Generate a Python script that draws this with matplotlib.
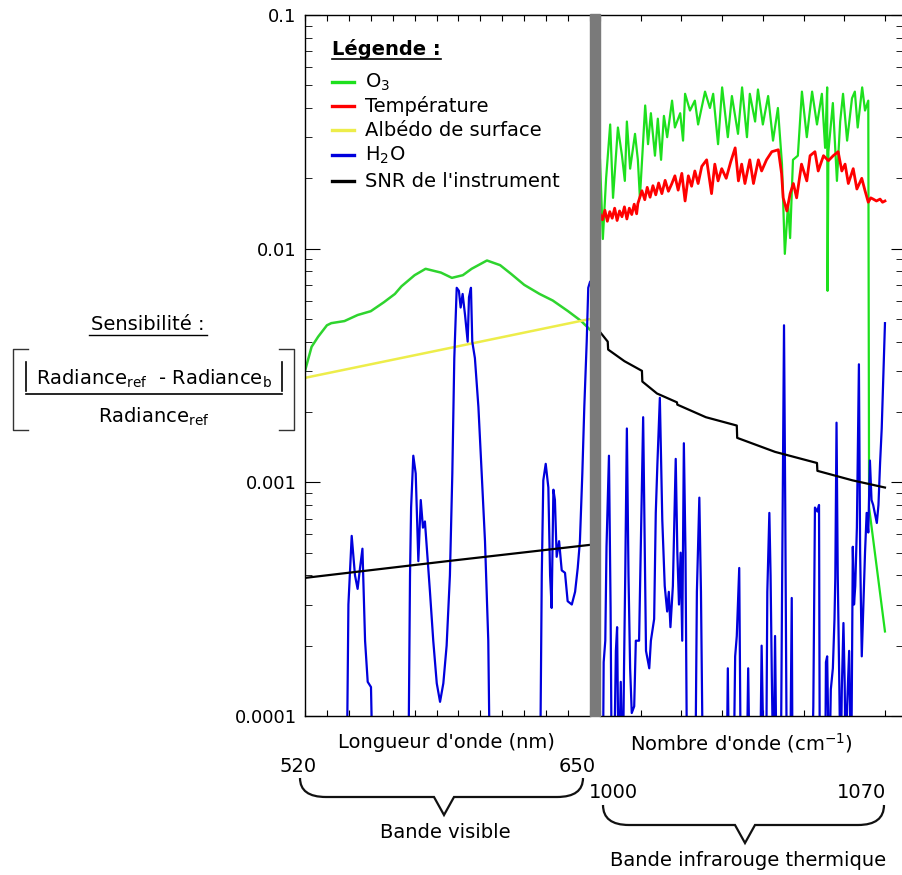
import numpy as np
import matplotlib
matplotlib.use("Agg")
import matplotlib.pyplot as plt
from matplotlib.lines import Line2D
from matplotlib.patches import Rectangle, PathPatch
from matplotlib.path import Path
from matplotlib.ticker import LogLocator, FixedFormatter, FixedLocator, NullFormatter

W, H = 903, 875

# --- donnees ---
# bande visible (nm)
o3_vis_nm = [520, 523, 526, 530, 532, 538, 544, 550, 556, 561, 564, 570, 575, 582, 587,
             592, 596, 603, 609, 614, 620, 627, 633, 640, 646, 650]
o3_vis = [0.0030, 0.0038, 0.0042, 0.0047, 0.0048, 0.0049, 0.0052, 0.0054, 0.0059, 0.0064,
          0.0069, 0.0077, 0.0082, 0.0079, 0.0075, 0.0077, 0.0082, 0.0089, 0.0085, 0.0078,
          0.0070, 0.0064, 0.0060, 0.0054, 0.0049, 0.0045]

albedo_nm = [520, 585, 650]
albedo = [0.0028, 0.00374, 0.0050]

snr_vis_nm = [520, 585, 650]
snr_vis = [0.00039, 0.00046, 0.00054]

h2o_vis_nm = [520, 539.0, 539.8, 541.3, 542.8, 544.0, 545.1, 546.2, 547.4, 548.6, 550.1, 551.0,
              567.1, 567.9, 568.4, 569.4, 570.5, 571.7, 572.8, 573.8, 574.7, 576.0, 577.0,
              578.5, 580.1, 581.6, 583.1, 584.6, 586.1, 587.2, 588.1, 589.2, 590.2, 591.0,
              591.9, 593.0, 594.2, 594.8, 595.7, 596.3, 597.5, 599.1, 600.6, 602.1, 603.6,
              604.4, 627.2, 628.0, 628.7, 629.8, 631.0, 631.8, 632.5, 633.3, 634.0, 634.8,
              635.9, 637.1, 638.6, 639.8, 641.7, 643.2, 644.4, 645.4, 646.5, 647.4, 648.5,
              649.2, 650]
h2o_vis = [5e-5, 5e-5, 0.00030, 0.00059, 0.00040, 0.00035, 0.00043, 0.00052, 0.00021, 0.00014,
           0.000133, 5e-5,
           5e-5, 0.00040, 0.00078, 0.0013, 0.00109, 0.00046, 0.00084, 0.00064, 0.00068,
           0.00046, 0.00034, 0.00021, 0.000138, 0.000115, 0.000138, 0.00020, 0.00040,
           0.00109, 0.0034, 0.0068, 0.0066, 0.0056, 0.0064, 0.0052, 0.0040, 0.0062, 0.0068,
           0.0040, 0.0034, 0.0021, 0.00109, 0.00056, 0.00021, 5e-5,
           5e-5, 0.00040, 0.00102, 0.0012, 0.00095, 0.00040, 0.00029, 0.00093, 0.00084,
           0.00048, 0.00056, 0.00042, 0.00041, 0.00031, 0.00030, 0.00034, 0.00043, 0.00056,
           0.00109, 0.0021, 0.0040, 0.0068, 0.0072]

# bande infrarouge (cm-1)
o3_ir_wn = [1000.0, 1000.7, 1001.5, 1002.5, 1003.2, 1004.4, 1005.4, 1006.1, 1006.6, 1007.4,
            1008.6, 1009.3, 1009.8, 1011.1, 1011.8, 1012.5, 1013.5, 1014.2, 1015.0, 1015.7,
            1016.5, 1017.7, 1018.4, 1019.7, 1020.4, 1020.9, 1022.1, 1023.3, 1024.1, 1025.8,
            1027.0, 1027.8, 1029.0, 1030.0, 1031.4, 1032.4, 1033.9, 1034.9, 1036.1, 1036.8,
            1038.1, 1038.8, 1040.0, 1041.3, 1042.5, 1043.7, 1044.7, 1045.4, 1046.2, 1046.7,
            1047.4, 1048.6, 1049.6, 1050.8, 1052.1, 1053.3, 1054.5, 1055.3, 1055.8, 1055.9,
            1056.1, 1057.2, 1058.2, 1059.0, 1059.7, 1060.7, 1061.9, 1062.6, 1063.3, 1064.4,
            1065.1, 1065.9, 1066.1, 1070.0]
o3_ir = [0.024, 0.011, 0.020, 0.034, 0.0165, 0.033, 0.025, 0.0195, 0.035, 0.022,
         0.031, 0.024, 0.0165, 0.041, 0.028, 0.038, 0.025, 0.036, 0.024, 0.037,
         0.030, 0.043, 0.033, 0.038, 0.029, 0.046, 0.039, 0.043, 0.034, 0.047,
         0.040, 0.046, 0.028, 0.049, 0.030, 0.045, 0.031, 0.049, 0.030, 0.046,
         0.035, 0.048, 0.034, 0.045, 0.029, 0.040, 0.023, 0.0095, 0.0156, 0.0111,
         0.024, 0.025, 0.047, 0.030, 0.047, 0.034, 0.046, 0.027, 0.049, 0.0066,
         0.026, 0.042, 0.0195, 0.035, 0.046, 0.029, 0.044, 0.047, 0.033, 0.049,
         0.039, 0.043, 0.00078, 0.00023]

temp_ir_wn = [1000.0, 1000.6, 1001.2, 1001.8, 1002.4, 1003.0, 1003.6, 1004.2, 1004.8, 1005.4,
              1006.0, 1006.6, 1007.2, 1007.8, 1008.4, 1009.0, 1009.3, 1010.3, 1011.0, 1011.6,
              1012.3, 1013.0, 1013.7, 1014.4, 1015.2, 1016.0, 1016.8, 1017.6, 1018.4, 1019.2,
              1020.1, 1020.9, 1021.7, 1022.5, 1023.3, 1024.1, 1025.0, 1026.2, 1027.4, 1028.2,
              1029.0, 1029.9, 1031.0, 1032.1, 1033.2, 1034.0, 1034.8, 1035.6, 1036.8, 1037.7,
              1038.9, 1039.7, 1040.9, 1042.2, 1043.8, 1044.6, 1045.0, 1045.9, 1046.7, 1047.5,
              1048.3, 1049.5, 1050.8, 1051.6, 1052.8, 1053.6, 1054.9, 1056.1, 1057.3, 1058.5,
              1059.4, 1060.2, 1061.0, 1062.2, 1063.1, 1064.3, 1065.1, 1065.9, 1066.5, 1067.1,
              1067.9, 1068.8, 1069.4, 1070.0]
temp_ir = [0.0141, 0.0133, 0.0146, 0.0131, 0.0144, 0.0135, 0.0149, 0.0132, 0.0145, 0.0137,
           0.0151, 0.0134, 0.0149, 0.0140, 0.0155, 0.0141, 0.0156, 0.0177, 0.0162, 0.0183,
           0.0166, 0.0186, 0.0170, 0.0191, 0.0172, 0.0196, 0.0176, 0.0189, 0.0205, 0.0178,
           0.0210, 0.0160, 0.0205, 0.0185, 0.0215, 0.0190, 0.0225, 0.0240, 0.0172, 0.0230,
           0.0195, 0.0220, 0.0200, 0.0235, 0.0270, 0.0195, 0.0230, 0.0190, 0.0240, 0.0190,
           0.0240, 0.0215, 0.0240, 0.0260, 0.0265, 0.0210, 0.0165, 0.0145, 0.0172, 0.0190,
           0.0165, 0.0230, 0.0195, 0.0250, 0.0260, 0.0215, 0.0250, 0.0238, 0.0250, 0.0260,
           0.0215, 0.0230, 0.0190, 0.0220, 0.0180, 0.0200, 0.0177, 0.0158, 0.0165, 0.0163,
           0.0160, 0.0163, 0.0158, 0.0160]

h2o_ir_wn = [1000.0, 1000.7, 1000.9, 1001.3, 1001.6, 1002.2, 1002.6, 1002.9, 1003.4, 1003.9,
             1004.2, 1004.6, 1005.1, 1005.6, 1005.9, 1006.2, 1006.6, 1007.0, 1007.4, 1007.8,
             1008.4, 1008.8, 1009.6, 1010.0, 1010.6, 1011.0, 1011.3, 1012.1, 1012.5, 1013.3,
             1013.7, 1014.1, 1014.7, 1015.3, 1015.9, 1016.5, 1016.9, 1017.3, 1017.9, 1018.6,
             1019.0, 1019.4, 1019.8, 1020.2, 1020.6, 1021.0, 1021.4, 1023.4, 1023.8, 1024.4,
             1024.8, 1025.3, 1031.1, 1031.4, 1031.7, 1032.8, 1033.2, 1033.6, 1034.2, 1034.6,
             1036.0, 1036.4, 1036.8, 1039.3, 1039.7, 1040.3, 1040.8, 1041.1, 1041.6, 1041.9,
             1042.2, 1042.6, 1043.0, 1043.4, 1044.4, 1044.7, 1045.2, 1045.5, 1045.9, 1046.7,
             1047.1, 1047.3, 1052.0, 1052.4, 1052.8, 1053.4, 1053.8, 1054.0, 1055.3, 1055.5,
             1055.8, 1056.3, 1056.7, 1057.2, 1057.6, 1057.8, 1058.1, 1058.4, 1058.8, 1059.1,
             1059.4, 1059.8, 1060.1, 1060.4, 1060.7, 1061.2, 1061.7, 1062.1, 1062.4, 1062.7,
             1063.1, 1063.6, 1063.9, 1064.3, 1064.7, 1065.1, 1065.5, 1065.9, 1066.3, 1066.7,
             1067.1, 1067.5, 1068.0, 1068.4, 1068.8, 1069.2, 1069.6, 1070.0]
h2o_ir = [5e-5, 5e-5, 0.00017, 0.00021, 0.00053, 0.0013, 0.00029, 5e-5, 5e-5, 0.00019,
          0.00024, 5e-5, 0.00014, 5e-5, 0.00016, 0.0004, 0.0017, 0.0004, 0.00016, 0.000103,
          0.00011, 0.00021, 0.00021, 0.0005, 0.0019, 0.0005, 0.00019, 0.00016, 0.00021, 0.00026,
          0.00074, 0.0012, 0.0023, 0.00069, 0.00036, 0.00028, 0.00034, 0.00024, 0.00036, 0.00126,
          0.0005, 0.0003, 0.0005, 0.00021, 0.00147, 0.0005, 5e-5, 5e-5, 0.00034, 0.00086,
          0.00034, 5e-5, 5e-5, 0.00016, 5e-5, 5e-5, 0.00018, 0.00022, 0.00043, 5e-5,
          5e-5, 0.00016, 5e-5, 5e-5, 0.0002, 5e-5, 5e-5, 0.00034, 0.00074, 0.0004,
          0.00015, 5e-5, 0.00022, 5e-5, 5e-5, 0.0003, 0.0047, 0.0008, 5e-5, 5e-5,
          0.00032, 5e-5, 5e-5, 0.00011, 0.00078, 0.00075, 0.0008, 5e-5, 5e-5, 0.00017,
          0.00018, 5e-5, 0.00013, 0.00016, 0.00026, 0.00039, 0.0018, 0.0004, 0.00013, 5e-5,
          0.00013, 0.00025, 0.00014, 5e-5, 0.00011, 0.00019, 5e-5, 0.00053, 0.0003, 0.00036,
          0.00064, 0.0032, 0.0005, 0.00018, 0.0003, 0.0005, 0.00074, 0.00061, 0.00124, 0.00084,
          0.0008, 0.00074, 0.00067, 0.0008, 0.00121, 0.0017, 0.0029, 0.0048]

snr_ir_wn = [1000, 1001.9, 1002.0, 1006.0, 1010.3, 1010.4, 1014.0, 1018.9, 1019.0, 1026.0,
             1033.6, 1033.7, 1043.0, 1053.3, 1053.4, 1062.0, 1070.0]
snr_ir = [0.0044, 0.0040, 0.0037, 0.0033, 0.0030, 0.0027, 0.0024, 0.0022, 0.00215, 0.0019,
          0.00175, 0.00155, 0.00135, 0.00121, 0.00112, 0.00102, 0.00095]

yticks = [0.0001, 0.001, 0.01, 0.1]
ytick_labels = ["0.0001", "0.001", "0.01", "0.1"]

GREEN = "#1de01d"
GREEN_VIS = "#2ed42e"
RED = "#ff0000"
YELLOW = "#eded4a"
BLUE = "#0000dd"


def fx(x):
    return x / W


def fy(y):
    return 1 - y / H


fig = plt.figure(figsize=(W / 100, H / 100), dpi=100)

ax1 = fig.add_axes([fx(305), fy(716), (590 - 305) / W, (716 - 15) / H])
ax2 = fig.add_axes([fx(600), fy(716), (903 - 600) / W, (716 - 15) / H])

ax1.plot(o3_vis_nm, o3_vis, color=GREEN_VIS, lw=1.8)
ax1.plot(albedo_nm, albedo, color=YELLOW, lw=1.8)
ax1.plot(h2o_vis_nm, h2o_vis, color=BLUE, lw=1.6)
ax1.plot(snr_vis_nm, snr_vis, color="black", lw=1.6)

ax2.plot(o3_ir_wn, o3_ir, color=GREEN, lw=1.6)
ax2.plot(temp_ir_wn, temp_ir, color=RED, lw=2.0)
ax2.plot(h2o_ir_wn, h2o_ir, color=BLUE, lw=1.6)
ax2.plot(snr_ir_wn, snr_ir, color="black", lw=1.6)

for ax in (ax1, ax2):
    ax.set_yscale("log")
    ax.set_ylim(1e-4, 0.1)
    for s in ax.spines.values():
        s.set_linewidth(1.0)

ax1.set_xlim(520, 650)
ax2.set_xlim(1000, 1000 + 303 / 4.071)
ax1.spines["right"].set_visible(False)
ax2.spines["left"].set_visible(False)
ax2.spines["right"].set_visible(False)

ax1.set_xticks(np.arange(520, 651, 10))
ax2.set_xticks(np.arange(1000, 1071, 10))
for ax in (ax1, ax2):
    ax.tick_params(axis="x", which="both", direction="in", top=True, bottom=True,
                   length=4, labelbottom=False)
    ax.xaxis.set_minor_locator(FixedLocator([]))

ax1.yaxis.set_major_locator(FixedLocator(yticks))
ax1.yaxis.set_major_formatter(FixedFormatter(ytick_labels))
ax1.yaxis.set_minor_locator(LogLocator(base=10, subs=np.arange(2, 10)))
ax1.yaxis.set_minor_formatter(NullFormatter())
ax1.tick_params(axis="y", which="major", direction="in", length=11, labelsize=13, pad=6,
                left=True, right=False)
ax1.tick_params(axis="y", which="minor", direction="in", length=5, left=True, right=False)

ax2.yaxis.tick_right()
ax2.yaxis.set_major_locator(FixedLocator(yticks))
ax2.yaxis.set_minor_locator(LogLocator(base=10, subs=np.arange(2, 10)))
ax2.yaxis.set_minor_formatter(NullFormatter())
ax2.tick_params(axis="y", which="both", direction="in", labelright=False, left=False, right=True)
ax2.tick_params(axis="y", which="major", length=9)
ax2.tick_params(axis="y", which="minor", length=5)

# barre grise de separation
fig.patches.append(Rectangle((fx(590), fy(716)), 10 / W, (716 - 14) / H,
                             transform=fig.transFigure, color="#7a7a7a", zorder=5))

# legende
fig.text(fx(332), fy(55), "Légende :", fontsize=14, fontweight="bold", va="baseline")
fig.add_artist(Line2D([fx(332), fx(441)], [fy(59), fy(59)], color="black", lw=1.2))
leg_labels = ["O$_3$", "Température", "Albédo de surface", "H$_2$O", "SNR de l'instrument"]
leg_colors = [GREEN, RED, YELLOW, BLUE, "black"]
leg_base = [88, 112, 136, 161, 187]
for lab, col, yb in zip(leg_labels, leg_colors, leg_base):
    fig.add_artist(Line2D([fx(332), fx(354)], [fy(yb - 6), fy(yb - 6)], color=col, lw=2.4))
    fig.text(fx(365), fy(yb), lab, fontsize=14, va="baseline")

# label de l'axe y
fig.text(fx(148), fy(330), "Sensibilité :", fontsize=14, ha="center", va="baseline")
fig.add_artist(Line2D([fx(89), fx(207)], [fy(335), fy(335)], color="black", lw=1.0))
fig.text(fx(154), fy(385), r"Radiance$_{\mathregular{ref}}$  - Radiance$_{\mathregular{b}}$",
         fontsize=14, ha="center", va="baseline")
fig.text(fx(154), fy(423), r"Radiance$_{\mathregular{ref}}$", fontsize=14, ha="center",
         va="baseline")
for xb in (26, 282):
    fig.add_artist(Line2D([fx(xb), fx(xb)], [fy(362), fy(391)], color="black", lw=1.2))
fig.add_artist(Line2D([fx(26), fx(282)], [fy(394), fy(394)], color="black", lw=1.2))
fig.add_artist(Line2D([fx(28), fx(13), fx(13), fx(28)], [fy(349), fy(349), fy(430), fy(430)],
                      color="#333333", lw=1.0))
fig.add_artist(Line2D([fx(279), fx(294), fx(294), fx(279)], [fy(349), fy(349), fy(430), fy(430)],
                      color="#333333", lw=1.0))

# titres des axes x et accolades
fig.text(fx(446), fy(743), "Longueur d'onde (nm)", fontsize=14, ha="center", va="center")
fig.text(fx(741), fy(743), r"Nombre d'onde (cm$^{\mathregular{-1}}$)", fontsize=14,
         ha="center", va="center")
fig.text(fx(298), fy(767), "520", fontsize=14, ha="center", va="center")
fig.text(fx(577), fy(767), "650", fontsize=14, ha="center", va="center")
fig.text(fx(613), fy(793), "1000", fontsize=14, ha="center", va="center")
fig.text(fx(862), fy(793), "1070", fontsize=14, ha="center", va="center")
fig.text(fx(445), fy(833), "Bande visible", fontsize=14, ha="center", va="center")
fig.text(fx(748), fy(860), "Bande infrarouge thermique", fontsize=14, ha="center", va="center")


def brace(x0, x1, ytop, ybar, xtip, ytip):
    pts = [(x0, ytop), (x0, ybar), (x0 + 26, ybar), (xtip - 10, ybar), (xtip, ytip),
           (xtip + 10, ybar), (x1 - 26, ybar), (x1, ybar), (x1, ytop)]
    codes = [Path.MOVETO, Path.CURVE3, Path.CURVE3, Path.LINETO, Path.LINETO,
             Path.LINETO, Path.LINETO, Path.CURVE3, Path.CURVE3]
    verts = [(fx(a), fy(b)) for a, b in pts]
    fig.patches.append(PathPatch(Path(verts, codes), transform=fig.transFigure,
                                 fill=False, lw=1.6, color="#111111"))


brace(300, 583, 778, 797, 444, 815)
brace(603, 884, 805, 825, 745, 843)

fig.savefig("out.png", dpi=100)
